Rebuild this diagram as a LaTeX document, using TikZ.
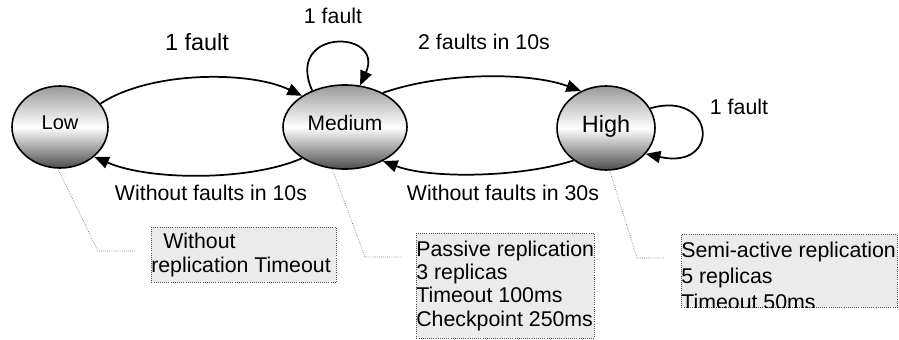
\documentclass[tikz,border=0pt]{standalone}
\usepackage{fontspec}
\setmainfont{Liberation Sans}
\usetikzlibrary{shapes.geometric,arrows.meta}

\begin{document}
\begin{tikzpicture}[x=0.75pt,y=-0.75pt,font=\fontsize{16}{18}\selectfont,
  statenode/.style={ellipse,draw=black,line width=1.2pt,inner sep=0pt,text depth=6pt,
    top color=black!40,bottom color=black!70,middle color=white},
  trans/.style={line width=1.3pt,-{Triangle[length=11pt,width=9pt]}},
  leader/.style={draw=black!65,line width=0.45pt,densely dotted},
  notebox/.style={draw=notedraw,densely dotted,line width=0.6pt,fill=notefill,
    anchor=north west,inner sep=0pt},
  notetext/.style={anchor=north west,align=left,inner xsep=0pt}]
  \definecolor{notefill}{HTML}{EBEBEB}
  \definecolor{notedraw}{HTML}{505050}
  % states
  \node[statenode,minimum width=72pt,minimum height=61.5pt,
        font=\fontsize{15}{17}\selectfont] (low) at (60,127) {Low};
  \node[statenode,minimum width=93pt,minimum height=63pt,
        font=\fontsize{15.75}{18}\selectfont] (med) at (345,127) {Medium};
  \node[statenode,minimum width=73.5pt,minimum height=63pt,
        font=\fontsize{17.6}{20}\selectfont] (high) at (606,128) {High};
  % transitions
  \draw[trans] (low.30) .. controls +(50,-33) and +(-52,-25) .. (med.144);
  \draw[trans] (med.216) .. controls +(-52,23) and +(55,24) .. (low.319);
  \draw[trans] (med.42) .. controls +(60,-21) and +(-52,-19) .. (high.124);
  \draw[trans] (high.225) .. controls +(-53,17) and +(48,18) .. (med.318);
  \draw[trans] (med.132) .. controls +(-28,-63) and +(25,-56) .. (med.70);
  \draw[trans] (high.24) .. controls +(65,-19) and +(76,17) .. (high.327);
  % transition labels
  \node[font=\fontsize{17.6}{20}\selectfont] (lowup) at (197,42) {1 fault};
  \node (medself) at (333,16) {1 fault};
  \node (medup) at (484,42) {2 faults in 10s};
  \node (highself) at (739,107) {1 fault};
  \node (medback) at (211,193) {Without faults in 10s};
  \node (highback) at (503,193) {Without faults in 30s};
  % leaders to the notes
  \foreach \st/\ang/\bx/\by/\ex in {low/267/98/251/136,med/253/365/257/401,high/275/637/258/665}{
    \coordinate (\st-bend) at (\bx,\by);
    \coordinate (\st-end) at (\ex,\by);
    \draw[leader] (\st.\ang) -- (\st-bend) -- (\st-end);
  }
  % notes
  \node[notebox,minimum width=138.75pt,minimum height=41.25pt] (nlow) at (151,227) {};
  \node[notetext,inner ysep=4pt,font=\fontsize{16}{18}\selectfont] (tlow) at (nlow.north west)
    {\hspace*{9pt}Without\\replication Timeout};
  \node[notebox,minimum width=133.5pt,minimum height=78.75pt] (nmed) at (416,233) {};
  \node[notetext,inner ysep=5.5pt,font=\fontsize{16}{17.5}\selectfont] (tmed) at (nmed.north west)
    {Passive replication\\3 replicas\\Timeout 100ms\\Checkpoint 250ms};
  \node[notebox,minimum width=162pt,minimum height=54.75pt] (nhigh) at (681,234) {};
  \begin{scope}
    \clip (nhigh.north west) rectangle (nhigh.south east);
    \node[notetext,inner ysep=6pt,font=\fontsize{16}{19.5}\selectfont] (thigh) at (nhigh.north west)
      {Semi-active replication\\5 replicas\\Timeout 50ms};
  \end{scope}
  \path[use as bounding box] (0,0) rectangle (899,339);
\end{tikzpicture}
\end{document}
